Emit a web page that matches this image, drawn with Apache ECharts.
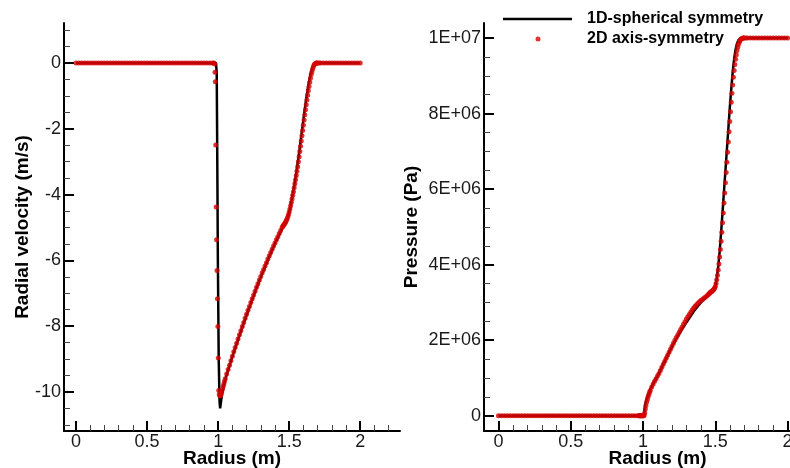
<!DOCTYPE html>
<html>
<head>
<meta charset="utf-8">
<script src="https://cdn.jsdelivr.net/npm/echarts@6/dist/echarts.min.js"></script>
<style>html,body{margin:0;padding:0;background:#fff;}#chart{width:790px;height:468px;}</style>
</head>
<body>
<div id="chart"></div>
<script>
// ---------------- data ----------------
// 1D-spherical symmetry (black line), radial velocity
const rVel1D = [0,0.985,0.99,0.994,0.998,1.004,1.01,1.014,1.02,1.03,1.05,1.1,1.17,1.25,1.3,1.35,1.4,1.45,1.47,1.48,1.49,1.5,1.51,1.52,1.53,1.54,1.55,1.56,1.57,1.58,1.59,1.6,1.61,1.62,1.63,1.64,1.65,1.66,1.67,1.68,1.69,2.0];
const vel1D  = [0,0,-0.3,-3,-6,-9,-10.3,-10.5,-10.3,-10.0,-9.62,-8.93,-8.03,-7.07,-6.51,-5.99,-5.49,-5.03,-4.88,-4.8,-4.7,-4.55,-4.33,-4.1,-3.86,-3.6,-3.33,-3.03,-2.72,-2.39,-2.05,-1.72,-1.39,-1.08,-0.8,-0.55,-0.34,-0.18,-0.07,-0.02,0,0];
// 1D-spherical symmetry (black line), pressure in MPa (x1e6 Pa)
const rPres1D = [0,1.004,1.008,1.015,1.025,1.04,1.06,1.08,1.1,1.15,1.2,1.25,1.3,1.35,1.4,1.45,1.48,1.5,1.51,1.52,1.53,1.54,1.55,1.56,1.57,1.58,1.59,1.6,1.61,1.62,1.63,1.64,1.65,1.66,1.67,1.68,2.0];
const pres1D  = [0,0,0.1,0.3,0.45,0.6,0.77,0.92,1.05,1.44,1.83,2.17,2.47,2.76,3.0,3.19,3.3,3.42,3.65,3.95,4.35,4.85,5.4,5.95,6.5,7.05,7.6,8.15,8.65,9.1,9.45,9.7,9.86,9.95,9.99,10,10];
// 2D axis-symmetry (red dots), sampled radii
const r2D = [0,0.02,0.04,0.06,0.08,0.1,0.12,0.14,0.16,0.18,0.2,0.22,0.24,0.26,0.28,0.3,0.32,0.34,0.36,0.38,0.4,0.42,0.44,0.46,0.48,0.5,0.52,0.54,0.56,0.58,0.6,0.62,0.64,0.66,0.68,0.7,0.72,0.74,0.76,0.78,0.8,0.82,0.84,0.86,0.88,0.9,0.92,0.94,0.96,0.97,
  0.976,0.978,0.98,0.983,0.986,0.989,0.992,0.995,0.998,1.001,1.004,1.008,1.012,1.016,1.02,1.025,1.03,1.035,1.04,1.045,
  1.05,1.06,1.07,1.08,1.09,1.1,1.11,1.12,1.13,1.14,1.15,1.16,1.17,1.18,1.19,1.2,1.21,1.22,1.23,1.24,1.25,1.26,1.27,1.28,1.29,1.3,1.31,1.32,1.33,1.34,1.35,1.36,1.37,1.38,1.39,1.4,1.41,1.42,1.43,1.44,1.45,
  1.455,1.46,1.465,1.47,1.475,1.48,1.485,1.49,1.495,1.5,1.505,1.51,1.515,1.52,1.525,1.53,1.535,1.54,1.545,1.55,1.555,1.56,1.565,1.57,1.575,1.58,1.585,1.59,1.595,1.6,1.605,1.61,1.615,1.62,1.625,1.63,1.635,1.64,1.645,1.65,1.655,1.66,1.665,1.67,1.675,1.68,1.685,1.69,1.695,1.7,
  1.71,1.72,1.74,1.76,1.78,1.8,1.82,1.84,1.86,1.88,1.9,1.92,1.94,1.96,1.98,2.0];
const vel2D = [0,0,0,0,0,0,0,0,0,0,0,0,0,0,0,0,0,0,0,0,0,0,0,0,0,0,0,0,0,0,0,0,0,0,0,0,0,0,0,0,0,0,0,0,0,0,0,0,0,0,
  -0.03,-0.28,-0.57,-2.49,-4.38,-5.37,-6.31,-7.17,-8.01,-8.97,-9.96,-10.08,-10.12,-10.12,-10.08,-10.0,-9.92,-9.84,-9.76,-9.68,
  -9.6,-9.46,-9.32,-9.19,-9.05,-8.92,-8.78,-8.65,-8.52,-8.39,-8.26,-8.14,-8.01,-7.89,-7.76,-7.64,-7.52,-7.4,-7.28,-7.17,-7.05,-6.94,-6.82,-6.71,-6.6,-6.49,-6.38,-6.28,-6.17,-6.07,-5.96,-5.86,-5.76,-5.66,-5.56,-5.47,-5.37,-5.28,-5.18,-5.09,-5.0,
  -4.96,-4.93,-4.9,-4.87,-4.83,-4.79,-4.74,-4.68,-4.61,-4.53,-4.44,-4.34,-4.24,-4.13,-4.02,-3.91,-3.79,-3.67,-3.55,-3.42,-3.29,-3.15,-3.0,-2.85,-2.69,-2.53,-2.37,-2.21,-2.05,-1.89,-1.73,-1.57,-1.42,-1.27,-1.12,-0.98,-0.84,-0.71,-0.58,-0.46,-0.35,-0.26,-0.18,-0.11,-0.06,-0.03,-0.01,0,0,0,
  0,0,0,0,0,0,0,0,0,0,0,0,0,0,0,0];
const pres2D = [0,0,0,0,0,0,0,0,0,0,0,0,0,0,0,0,0,0,0,0,0,0,0,0,0,0,0,0,0,0,0,0,0,0,0,0,0,0,0,0,0,0,0,0,0,0,0,0,0,0,
  0,0,0,0,0,0,0,0,0,0,0,0.02,0.08,0.18,0.27,0.36,0.43,0.5,0.56,0.62,
  0.67,0.76,0.84,0.91,0.98,1.05,1.12,1.2,1.28,1.36,1.44,1.52,1.6,1.68,1.76,1.84,1.92,2.0,2.07,2.14,2.21,2.28,2.35,2.42,2.49,2.56,2.62,2.68,2.74,2.8,2.85,2.9,2.94,2.98,3.02,3.05,3.08,3.11,3.14,3.17,3.2,
  3.22,3.24,3.26,3.28,3.29,3.31,3.33,3.35,3.38,3.42,3.5,3.6,3.72,3.86,4.02,4.2,4.4,4.62,4.86,5.11,5.37,5.63,5.9,6.17,6.44,6.71,6.98,7.25,7.52,7.79,8.05,8.3,8.54,8.76,8.96,9.14,9.3,9.44,9.56,9.67,9.76,9.83,9.89,9.93,9.96,9.98,9.99,10,10,10,
  10,10,10,10,10,10,10,10,10,10,10,10,10,10,10,10];
// ticks
const xMajorTicks = [0,0.5,1,1.5,2];
const xMinorTicks = [0.1,0.2,0.3,0.4,0.6,0.7,0.8,0.9,1.1,1.2,1.3,1.4,1.6,1.7,1.8,1.9,2.1,2.2];
const velMajorTicks = [-10,-8,-6,-4,-2,0];
const velMinorTicks = [-11,-10.5,-9.5,-9,-8.5,-7.5,-7,-6.5,-5.5,-5,-4.5,-3.5,-3,-2.5,-1.5,-1,-0.5,0.5,1];
const presMajorTicksMPa = [0,2,4,6,8,10];
const presMinorTicksMPa = [0.5,1,1.5,2.5,3,3.5,4.5,5,5.5,6.5,7,7.5,8.5,9,9.5];
const seriesNames = ['1D-spherical symmetry','2D axis-symmetry'];
const axisNames = {x:'Radius (m)', vel:'Radial velocity (m/s)', pres:'Pressure (Pa)'};

// ---------------- build ----------------
const MPA = 1e6;
const zip = (a,b,s) => a.map((v,i)=>[v,b[i]*(s||1)]);
const FONT = '"Liberation Sans", Arial, Helvetica, sans-serif';
const RED = '#d40000';

function presFmt(v){
  if (Math.abs(v) < 1) return '0';
  const e = Math.floor(Math.log10(Math.abs(v)) + 1e-9);
  const m = Math.round(v / Math.pow(10, e));
  return m + 'E+' + (e < 10 ? '0' : '') + e;
}

const labelStyle = {fontFamily: FONT, fontSize: 18, color: '#1a1a1a'};
const nameStyle = {fontFamily: FONT, fontSize: 19, fontWeight: 'bold', color: '#000'};

function mainX(grid, min, max){
  return {type:'value', gridIndex:grid, position:'bottom', min:min, max:max,
    axisLine:{show:true, onZero:false, lineStyle:{color:'#000', width:2}},
    axisTick:{show:true, inside:true, length:10, customValues:xMajorTicks, lineStyle:{color:'#000', width:2}},
    axisLabel:{show:true, customValues:xMajorTicks, margin:2, ...labelStyle, formatter:v=>String(v)},
    splitLine:{show:false},
    name:axisNames.x, nameLocation:'middle', nameGap:18, nameMoveOverlap:false, nameTextStyle:nameStyle};
}
function minorX(grid, min, max){
  return {type:'value', gridIndex:grid, position:'bottom', min:min, max:max,
    axisLine:{show:false, onZero:false},
    axisTick:{show:true, inside:true, length:6, customValues:xMinorTicks, lineStyle:{color:'#444', width:1}},
    axisLabel:{show:false}, splitLine:{show:false}};
}
function mainY(grid, min, max, ticks, fmt, name, gap){
  return {type:'value', gridIndex:grid, position:'left', min:min, max:max,
    axisLine:{show:true, onZero:false, lineStyle:{color:'#000', width:2}},
    axisTick:{show:true, inside:true, length:10, customValues:ticks, lineStyle:{color:'#000', width:2}},
    axisLabel:{show:true, customValues:ticks, margin:3, ...labelStyle, formatter:fmt},
    splitLine:{show:false},
    name:name, nameLocation:'middle', nameGap:gap, nameMoveOverlap:false, nameTextStyle:nameStyle};
}
function minorY(grid, min, max, ticks){
  return {type:'value', gridIndex:grid, position:'left', min:min, max:max,
    axisLine:{show:false, onZero:false},
    axisTick:{show:true, inside:true, length:6, customValues:ticks, lineStyle:{color:'#444', width:1}},
    axisLabel:{show:false}, splitLine:{show:false}};
}

const legendText = {fontFamily:FONT, fontSize:16, fontWeight:'bold', color:'#000'};
const PMIN = -0.405*MPA, PMAX = 10.4*MPA;
const option = {
  animation:false,
  backgroundColor:'#fff',
  grid:[
    {left:64, top:23, width:336, height:408, outerBoundsMode:'none', containLabel:false},
    {left:484, top:23, width:347, height:408, outerBoundsMode:'none', containLabel:false}
  ],
  xAxis:[
    mainX(0,-0.085,2.28), minorX(0,-0.085,2.28),
    mainX(1,-0.1,2.3), minorX(1,-0.1,2.3)
  ],
  yAxis:[
    mainY(0,-11.19,1.22,velMajorTicks,v=>String(v),axisNames.vel,32),
    minorY(0,-11.19,1.22,velMinorTicks),
    mainY(1,PMIN,PMAX,presMajorTicksMPa.map(v=>v*MPA),presFmt,axisNames.pres,63),
    minorY(1,PMIN,PMAX,presMinorTicksMPa.map(v=>v*MPA))
  ],
  legend:[
    {data:[{name:seriesNames[0], icon:'rect'}], left:503, top:11, padding:0, itemWidth:69, itemHeight:2.5, selectedMode:false,
     itemStyle:{color:'#000'}, textStyle:{...legendText, padding:[0,0,0,10]}},
    {data:[{name:seriesNames[1], icon:'circle'}], left:535.5, top:31, padding:0, itemWidth:5, itemHeight:5, selectedMode:false,
     textStyle:{...legendText, padding:[0,0,0,41.5]}}
  ],
  series:[
    {type:'line', name:seriesNames[0], xAxisIndex:0, yAxisIndex:0, data:zip(rVel1D, vel1D),
     symbol:'none', lineStyle:{color:'#000', width:2.5}, itemStyle:{color:'#000'}, z:2},
    {type:'scatter', name:seriesNames[1], xAxisIndex:0, yAxisIndex:0, data:zip(r2D, vel2D),
     symbolSize:5, itemStyle:{color:RED}, z:3},
    {type:'line', name:seriesNames[0], xAxisIndex:2, yAxisIndex:2, data:zip(rPres1D, pres1D, MPA),
     symbol:'none', lineStyle:{color:'#000', width:2.5}, itemStyle:{color:'#000'}, z:2},
    {type:'scatter', name:seriesNames[1], xAxisIndex:2, yAxisIndex:2, data:zip(r2D, pres2D, MPA),
     symbolSize:5, itemStyle:{color:RED}, z:3}
  ]
};
const chart = echarts.init(document.getElementById('chart'), null, {renderer:'canvas'});
chart.setOption(option);
</script>
</body>
</html>
